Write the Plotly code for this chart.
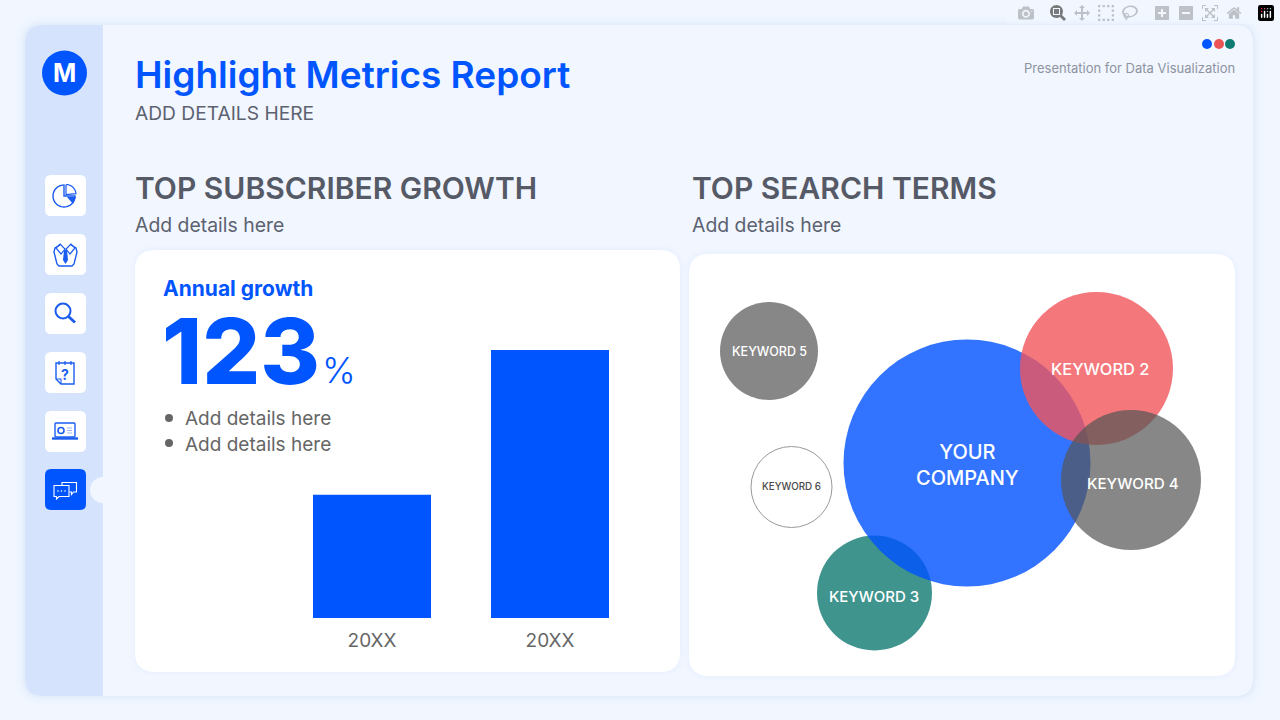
import numpy as np
import plotly.graph_objects as go

# bar chart data
bar_labels = ["20XX", "20XX"]
bar_values = [46, 100]

# bubble chart data (positions on the 1280x720 canvas axis, sizes are diameters), bottom one first
bubble_names = ["KEYWORD 3", "YOUR<br>COMPANY", "KEYWORD 2", "KEYWORD 4", "KEYWORD 5", "KEYWORD 6"]
bubble_x = [874.5, 967, 1096.5, 1131, 769, 791.5]
bubble_y = [593, 463, 368.5, 480, 351, 487]
bubble_size = [115, 247, 153, 140, 98, 81]
bubble_colors = ["#107A73", "#0052FF", "#F2565C", "#555555", "#555555", "rgba(255,255,255,0)"]
bubble_opacity = [0.8, 0.8, 0.8, 0.7, 0.7, 1]
bubble_text_x = [874, 967, 1100, 1133, 769, 791]
bubble_text_y = [596, 465, 369, 483, 351, 486]
bubble_text_size = [15, 20, 16.4, 15.2, 12.5, 9.8]

BLUE = "#0055FF"
INK = "#555A66"
FONT = "Inter"


def rrect(x0, y0, x1, y1, r):
    return (
        f"M{x0+r},{y0} L{x1-r},{y0} Q{x1},{y0} {x1},{y0+r} L{x1},{y1-r} Q{x1},{y1} {x1-r},{y1} "
        f"L{x0+r},{y1} Q{x0},{y1} {x0},{y1-r} L{x0},{y0+r} Q{x0},{y0} {x0+r},{y0} Z"
    )


def arc(cx, cy, r, a0, a1, n=40):
    t = np.radians(np.linspace(a0, a1, n))
    return [(cx + r * np.cos(v), cy + r * np.sin(v)) for v in t]


def poly(points, close=False):
    s = "M" + " L".join(f"{x:.2f},{y:.2f}" for x, y in points)
    return s + (" Z" if close else "")


shapes = []


def add_path(path, fill="rgba(0,0,0,0)", line=None, width=1.4):
    shapes.append(dict(
        type="path", path=path, xref="x", yref="y", layer="below", fillcolor=fill,
        line=dict(color=line or "rgba(0,0,0,0)", width=width if line else 0),
    ))


def add_circle(cx, cy, r, fill="rgba(0,0,0,0)", line=None, width=1.4):
    shapes.append(dict(
        type="circle", x0=cx - r, x1=cx + r, y0=cy - r, y1=cy + r, xref="x", yref="y", layer="below",
        fillcolor=fill, line=dict(color=line or "rgba(0,0,0,0)", width=width if line else 0),
    ))


# main panel with a soft shadow
for grow, alpha in [(10, 0.012), (7, 0.016), (4, 0.022), (2, 0.03)]:
    add_path(rrect(25 - grow, 25 - grow, 1253 + grow, 696 + grow, 18 + grow), f"rgba(90,130,220,{alpha})")
add_path(rrect(25, 25, 1253, 696, 18), "#F1F6FF")
add_path(
    "M103,25 L43,25 Q25,25 25,43 L25,678 Q25,696 43,696 L103,696 Z", "#D6E3FD"
)

# white cards
for x0, y0, x1, y1 in [(135, 250, 680, 672), (689, 254, 1235, 676)]:
    for grow, alpha in [(5, 0.008), (3, 0.012), (1, 0.018)]:
        add_path(rrect(x0 - grow, y0 - grow, x1 + grow, y1 + grow, 20 + grow), f"rgba(90,130,220,{alpha})")
    add_path(rrect(x0, y0, x1, y1, 20), "#FFFFFF")

# corner dots, logo, sidebar tiles
add_circle(1207, 44, 5, BLUE)
add_circle(1219, 44, 5, "#EA5455")
add_circle(1230, 44, 5, "#0F7B73")
add_circle(64.5, 73, 22.5, BLUE)
add_circle(103, 490, 13, "#F1F6FF")
for y0 in [175, 234, 293, 352, 411]:
    add_path(rrect(45, y0, 86, y0 + 41, 6), "#FFFFFF")
add_path(rrect(45, 469, 86, 510, 6), BLUE)

ICON = "#1A5CF0"
# pie icon
add_path(poly([(64, 196)] + arc(64, 196, 11, 0, 270), True), line=ICON)
add_path(poly([(66, 185)] + arc(66, 194.5, 10, -85, -5) + [(66, 194.5)], True), line=ICON, width=1.2)
add_path(poly([(67, 197), (76, 197), (73, 204)], True), ICON)
# shirt icon
add_path(poly([(60, 245), (55, 248), (54, 252), (57, 264), (59, 266), (72, 266), (74, 264), (77, 252), (76, 248), (71, 245)]), line=ICON)
add_path(poly([(60, 244), (65, 249), (61, 254), (56, 248)], True), line=ICON, width=1.2)
add_path(poly([(71, 244), (66, 249), (70, 254), (75, 248)], True), line=ICON, width=1.2)
add_path(poly([(64, 250), (67, 250), (68, 260), (65.5, 264), (63, 260)], True), ICON)
# magnifier icon
add_circle(63, 311, 7.5, line=ICON, width=2)
add_path("M68.5,316.5 L75,322.5", line=ICON, width=2.8)
# notepad icon
add_path(poly([(56, 363), (74, 363), (74, 384), (61, 384), (56, 379)], True), line=ICON)
add_path("M56,379 L61,379 L61,384", line=ICON, width=1.1)
for x in [59, 65, 71]:
    add_path(f"M{x},361 L{x},365", line=ICON, width=1.2)
# laptop icon
add_path(rrect(55, 423, 75, 437, 1), line=ICON)
add_path("M52,438.5 L78,438.5", line=ICON, width=2.4)
add_circle(61, 430.5, 3, line=ICON, width=1.6)
for y in [428, 430.5, 433]:
    add_path(f"M67,{y} L72,{y}", line="#9DB8F5", width=1)
# chat icon
add_path(
    "M64,482.5 L76.5,482.5 L76.5,492 L73.5,492 L71.5,494.5 L71.5,492 L69.5,492",
    line="#FFFFFF", width=1.1,
)
add_path(
    "M64,482.5 L62,482.5 L62,485.5",
    line="#FFFFFF", width=1.1,
)
add_path(
    "M54,485.5 L69,485.5 L69,496.5 L59,496.5 L56.5,499 L56.5,496.5 L54,496.5 Z",
    line="#FFFFFF", width=1.1,
)
for x in [58, 61.5, 65]:
    add_circle(x, 491, 0.8, "#FFFFFF")
# bullets
add_circle(169, 418, 4, "#666666")
add_circle(169, 443, 4, "#666666")

annotations = []


def label(x, y, text, size, color=INK, weight=400, anchor="left"):
    # annotations keep a little padding, take it back at the edges
    nudge = {"left": -2, "right": 2, "center": 0}[anchor]
    annotations.append(dict(
        x=x + nudge, y=y, xref="x", yref="y", text=text, showarrow=False, xanchor=anchor, yanchor="middle",
        font=dict(family=FONT, size=size, color=color, weight=weight),
    ))


label(135, 74, "Highlight Metrics Report", 37, BLUE, 600)
label(135, 113, "ADD DETAILS HERE", 19.2, "#5C6270")
label(1235, 68, "Presentation for Data Visualization", 13, "#8D93A0", 400, "right")
label(135, 188, "TOP SUBSCRIBER GROWTH", 30, INK, 600)
label(135, 225, "Add details here", 19.4, "#5C6270")
label(692, 188, "TOP SEARCH TERMS", 30, INK, 600)
label(692, 225, "Add details here", 19.4, "#5C6270")
label(163, 288, "Annual growth", 21, BLUE, 700)
label(162, 351, "123", 91, BLUE, 800)
label(322, 370, "%", 36, BLUE, 300)
label(185, 418, "Add details here", 19, "#666666")
label(185, 444, "Add details here", 19, "#666666")
label(64.5, 73, "M", 25, "#FFFFFF", 700, "center")
label(65, 374, "?", 14, ICON, 700, "center")

fig = go.Figure()

# bubbles sit on the full canvas axis
fig.add_trace(go.Scatter(
    x=bubble_x, y=bubble_y, mode="markers", xaxis="x", yaxis="y",
    marker=dict(
        size=bubble_size, color=bubble_colors, opacity=bubble_opacity,
        line=dict(color=["rgba(0,0,0,0)"] * 5 + ["#9A9A9A"], width=1),
    ),
    hoverinfo="skip",
))
for name, x, y, s in zip(bubble_names, bubble_text_x, bubble_text_y, bubble_text_size):
    label(x, y, name, s, "#4A4A4A" if name == "KEYWORD 6" else "#FFFFFF", 500, "center")

fig.add_trace(go.Bar(
    x=[0, 1], y=bar_values, marker=dict(color=BLUE, line=dict(width=0)), xaxis="x2", yaxis="y2",
    hoverinfo="skip",
))

fig.update_layout(
    width=1280,
    height=720,
    margin=dict(l=0, r=0, t=0, b=0),
    paper_bgcolor="#F2F7FF",
    plot_bgcolor="rgba(0,0,0,0)",
    showlegend=False,
    bargap=0.337,
    shapes=shapes,
    annotations=annotations,
    xaxis=dict(range=[0, 1280], domain=[0, 1], visible=False, fixedrange=True),
    yaxis=dict(range=[720, 0], domain=[0, 1], visible=False, fixedrange=True),
    xaxis2=dict(
        domain=[283 / 1280, 639 / 1280], range=[-0.5, 1.5], anchor="y2", tickmode="array", tickvals=[0, 1],
        ticktext=bar_labels, showgrid=False, zeroline=False, showline=False, ticks="outside", ticklen=5,
        tickcolor="rgba(0,0,0,0)", tickfont=dict(family=FONT, size=19, color="#666666"),
    ),
    yaxis2=dict(
        domain=[(720 - 618) / 720, (720 - 350) / 720], range=[0, 100], anchor="x2", visible=False,
    ),
)

# the page's default body margin would push the figure off the window corner
fig.write_html("out.html", post_script="document.body.style.margin='0';")
